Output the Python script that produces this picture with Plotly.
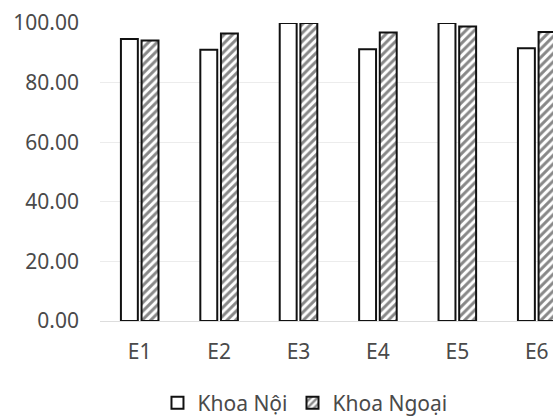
import plotly.graph_objects as go

# Data
categories = ["E1", "E2", "E3", "E4", "E5", "E6"]
khoa_noi = [94.6, 91.0, 100.0, 91.2, 100.0, 91.5]
khoa_ngoai = [94.1, 96.5, 100.0, 96.8, 98.8, 97.0]
y_ticks = [0, 20, 40, 60, 80, 100]

fig = go.Figure()

# Khoa Nội - plain white bars
fig.add_trace(
    go.Bar(
        x=categories,
        y=khoa_noi,
        name="Khoa Nội",
        marker=dict(color="white", line=dict(color="#111111", width=2)),
    )
)

# Khoa Ngoại - hatched bars
fig.add_trace(
    go.Bar(
        x=categories,
        y=khoa_ngoai,
        name="Khoa Ngoại",
        marker=dict(
            color="white",
            line=dict(color="#111111", width=2),
            pattern=dict(shape="/", fgcolor="#111111", bgcolor="white", size=6, solidity=0.5),
        ),
    )
)

fig.update_layout(
    width=553,
    height=416,
    margin=dict(l=100, r=0, t=23, b=95, autoexpand=False),
    paper_bgcolor="white",
    plot_bgcolor="white",
    barmode="group",
    bargap=0.48,
    bargroupgap=0.18,
    font=dict(family="Noto Sans", size=21, color="#4a4a4a"),
    showlegend=True,
    legend=dict(
        orientation="h",
        x=0.4525,
        xanchor="center",
        yref="container",
        y=0.031,
        yanchor="middle",
        font=dict(size=21, color="#4a4a4a"),
        itemwidth=30,
    ),
    xaxis=dict(
        # the right edge of the chart is cut off in the original
        range=[-0.5, 5.205],
        automargin=False,
        showgrid=False,
        showline=True,
        linecolor="#dddddd",
        linewidth=1,
        ticks="",
        ticklabelstandoff=12,
        tickfont=dict(size=21),
    ),
    yaxis=dict(
        range=[0, 100],
        automargin=False,
        tickvals=y_ticks,
        tickformat=".2f",
        showgrid=True,
        gridcolor="#ececec",
        gridwidth=1,
        zeroline=False,
        ticks="",
        ticklabelstandoff=20,
        tickfont=dict(size=21),
    ),
)

# drop the default body margin so the figure sits at the page corner
fig.write_html(
    "out.html",
    config={"displayModeBar": False},
    post_script="document.body.style.margin='0';",
)
